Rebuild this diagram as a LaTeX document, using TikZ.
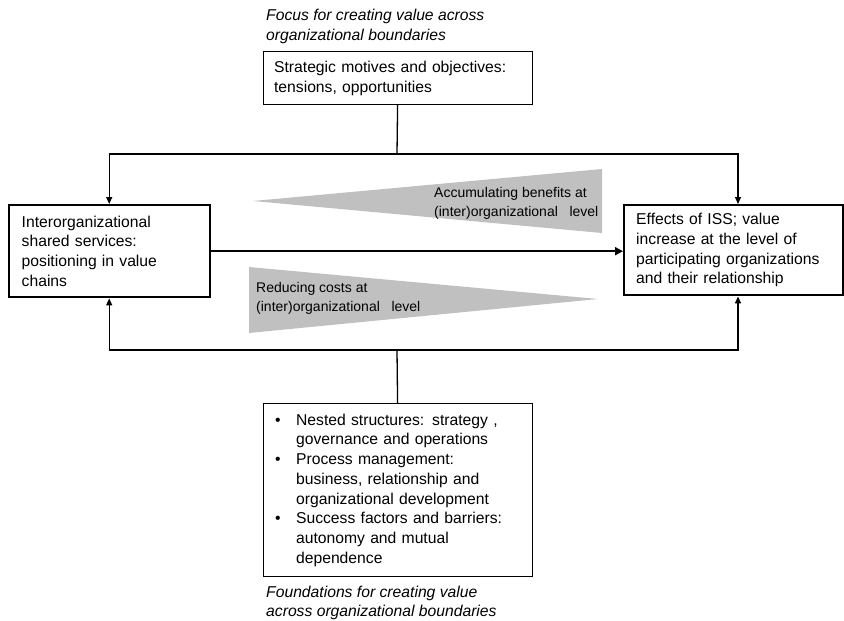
\documentclass[tikz,border=0pt]{standalone}
\usepackage{fontspec}
\setmainfont{Liberation Sans}
\usetikzlibrary{arrows.meta,calc}
\definecolor{wedgegray}{RGB}{192,192,192}
\newcommand\bulitem[1]{\makebox[21pt][l]{\textbullet}#1}
\newcommand\bulcont[1]{\hspace*{21pt}#1}
\begin{document}
\begin{tikzpicture}[x=1pt,y=-1pt,
  box/.style={draw, line width=1.2pt, align=left, inner ysep=0pt, anchor=north west,
              font=\fontsize{15.7}{19.7}\selectfont},
  thickbox/.style={box, line width=2.4pt},
  conn/.style={line width=1.3pt},
  arr/.style={conn, -{Triangle[length=7pt,width=6pt]}},
  captext/.style={font=\fontsize{15.7}{19.7}\selectfont\itshape, align=left, anchor=west, inner sep=0pt},
  wtext/.style={font=\fontsize{14}{19}\selectfont, align=left, anchor=west, inner sep=0pt}]
\useasboundingbox (0,0) rectangle (844,621);

% captions
\node[captext] (capt) at (266,26.5) {Focus for creating value across\\organizational boundaries};
\node[captext] (capb) at (266,603) {Foundations for creating value\\across organizational boundaries};

% boxes
\node[box, inner xsep=11pt, text width=247pt, minimum height=53pt] (top) at (262.5,51)
  {Strategic motives and objectives:\\tensions, opportunities};
\node[thickbox, inner xsep=13pt, text width=175pt, minimum height=92pt] (left) at (7.5,204)
  {Interorganizational\\shared services:\\positioning in value\\chains};
\node[thickbox, inner xsep=12pt, text width=195pt, minimum height=90pt] (right) at (623,204)
  {Effects of ISS; value\\increase at the level of\\participating organizations\\and their relationship};
\node[box, inner xsep=12pt, text width=245pt, minimum height=173pt] (bot) at (262.5,403)
  {\bulitem{Nested structures: strategy ,}\\
   \bulcont{governance and operations}\\
   \bulitem{Process management:}\\
   \bulcont{business, relationship and}\\
   \bulcont{organizational development}\\
   \bulitem{Success factors and barriers:}\\
   \bulcont{autonomy and mutual}\\
   \bulcont{dependence}};

% wedges
\fill[wedgegray] (253,201) -- (602,169) -- (602,233) -- cycle;
\fill[wedgegray] (249,267) -- (598,299) -- (249,333) -- cycle;
\node[wtext] (wt1) at (434,203) {Accumulating benefits at\\(inter)organizational\ \ \ level};
\node[wtext] (wt2) at (256,298) {Reducing costs at\\(inter)organizational\ \ \ level};

% connectors
\coordinate (tj) at (397,154);
\coordinate (tr) at (738,154);
\coordinate (bj) at (397,350);
\coordinate (br) at (738,350);
\draw[conn] (top.south) -- (tj);
\draw[arr] (tj) -| (left.north);
\draw[arr] (tj) -- (tr) -- (tr |- right.north);
\draw[conn] (bot.north) -- (bj);
\draw[arr] (bj) -| (left.south);
\draw[arr] (bj) -- (br) -- (br |- right.south);
\draw[line width=2.4pt, -{Triangle[length=8pt,width=8pt]}] (left.east) -- (right.west |- left.east);
\end{tikzpicture}
\end{document}
